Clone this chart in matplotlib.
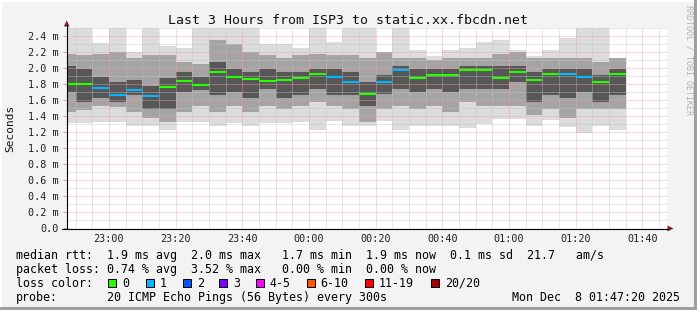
import matplotlib
matplotlib.use("Agg")
import matplotlib.pyplot as plt
import matplotlib.dates as mdates
from matplotlib.ticker import MultipleLocator, FuncFormatter
from matplotlib.lines import Line2D
from matplotlib.patches import Polygon, Rectangle
from datetime import datetime, timedelta

W, H = 697, 310
MONO = "DejaVu Sans Mono"

# time range of the graph and 5 min (300 s) probe steps
t_start = datetime(2025, 12, 7, 22, 47, 20)
t_end = datetime(2025, 12, 8, 1, 47, 20)
first_bin = datetime(2025, 12, 7, 22, 45)
step_min = 5

# median rtt per step (ms) and number of lost pings (of 20)
median = [1.80, 1.80, 1.75, 1.66, 1.72, 1.65, 1.76, 1.84, 1.79, 1.95, 1.89, 1.86,
          1.84, 1.85, 1.875, 1.925, 1.89, 1.82, 1.675, 1.82, 1.97, 1.88, 1.91, 1.91,
          1.97, 1.97, 1.88, 1.955, 1.855, 1.93, 1.93, 1.89, 1.83, 1.92]
loss = [0, 0, 1, 1, 1, 1, 0, 0, 0, 0, 0, 0, 0, 0, 0, 0, 1, 1, 0, 1, 1, 0, 0, 0,
        0, 0, 0, 0, 0, 0, 1, 1, 0, 0]

# smoke: spread of the 20 pings (ms)
rtt_max = [2.6, 2.6, 2.31, 2.6, 2.20, 2.6, 2.28, 2.25, 2.6, 2.6, 2.6, 2.6,
           2.30, 2.30, 2.25, 2.6, 2.33, 2.6, 2.6, 2.20, 2.6, 2.23, 2.15, 2.22,
           2.25, 2.32, 2.35, 2.22, 2.15, 2.22, 2.38, 2.6, 2.6, 2.10]
rtt_min = [1.31, 1.31, 1.32, 1.32, 1.27, 1.275, 1.225, 1.33, 1.33, 1.27, 1.31, 1.27,
           1.31, 1.31, 1.32, 1.23, 1.34, 1.27, 1.275, 1.34, 1.225, 1.275, 1.275, 1.275,
           1.25, 1.30, 1.36, 1.36, 1.27, 1.35, 1.26, 1.19, 1.27, 1.225]
mid_hi = [2.18, 2.16, 2.18, 2.20, 2.12, 2.16, 2.16, 2.08, 2.05, 2.35, 2.30, 2.20,
          2.16, 2.12, 2.16, 2.18, 2.16, 2.16, 2.12, 2.20, 2.12, 2.12, 2.10, 2.12,
          2.12, 2.12, 2.18, 2.20, 2.12, 2.12, 2.12, 2.12, 2.08, 2.12]
mid_lo = [1.45, 1.47, 1.53, 1.51, 1.45, 1.37, 1.33, 1.45, 1.53, 1.45, 1.53, 1.45,
          1.53, 1.49, 1.53, 1.575, 1.53, 1.49, 1.33, 1.49, 1.53, 1.49, 1.53, 1.45,
          1.575, 1.53, 1.53, 1.53, 1.41, 1.49, 1.37, 1.49, 1.49, 1.49]
core_hi = [2.03, 1.99, 1.89, 1.83, 1.85, 1.78, 1.87, 1.95, 1.89, 2.08, 1.99, 1.95,
           1.99, 1.95, 1.95, 1.99, 1.99, 1.95, 1.83, 1.91, 2.03, 1.99, 1.99, 1.99,
           2.03, 2.03, 2.03, 2.03, 1.95, 1.99, 1.99, 1.99, 1.91, 1.99]
core_lo = [1.70, 1.575, 1.62, 1.575, 1.66, 1.49, 1.49, 1.70, 1.72, 1.66, 1.70, 1.62,
           1.74, 1.62, 1.66, 1.74, 1.66, 1.66, 1.53, 1.68, 1.74, 1.70, 1.74, 1.70,
           1.74, 1.74, 1.74, 1.83, 1.575, 1.66, 1.62, 1.70, 1.575, 1.66]

loss_labels = ["0", "1", "2", "3", "4-5", "6-10", "11-19", "20/20"]
loss_upper = [0, 1, 2, 3, 5, 10, 19, 20]
loss_colors = ["#26ff00", "#00b8ff", "#0059ff", "#7e00ff", "#ff00ff", "#ff5500", "#ff0000", "#a10000"]


def px(x, y):
    return x / W, 1 - y / H


def loss_color(n):
    for up, c in zip(loss_upper, loss_colors):
        if n <= up:
            return c
    return loss_colors[-1]


fig = plt.figure(figsize=(W / 100, H / 100), dpi=100, facecolor="#f3f3f3")
ax = fig.add_axes([66.7 / W, (H - 228) / H, 600 / W, 200 / H])
ax.set_facecolor("white")

bins = [mdates.date2num(first_bin + timedelta(minutes=step_min * i)) for i in range(len(median))]
bw = step_min / 1440.0

# smoke layers
for lo, hi, col in [(rtt_min, rtt_max, "#dcdcdc"), (mid_lo, mid_hi, "#a4a4a4"), (core_lo, core_hi, "#575757")]:
    ax.bar(bins, [h - l for l, h in zip(lo, hi)], bottom=lo, width=bw, align="edge",
           color=col, linewidth=0, zorder=1)

# median lines coloured by loss
for b, m, n in zip(bins, median, loss):
    ax.hlines(m, b, b + bw, colors=loss_color(n), linewidth=1.5, zorder=4)

ax.set_xlim(mdates.date2num(t_start), mdates.date2num(t_end))
ax.set_ylim(0, 2.5)

ax.xaxis.set_major_locator(mdates.MinuteLocator(byminute=[0, 20, 40]))
ax.xaxis.set_minor_locator(mdates.MinuteLocator(byminute=range(0, 60, 5)))
ax.xaxis.set_major_formatter(mdates.DateFormatter("%H:%M"))
ax.yaxis.set_major_locator(MultipleLocator(0.2))
ax.yaxis.set_minor_locator(MultipleLocator(0.1))
ax.yaxis.set_major_formatter(FuncFormatter(lambda v, p: "0.0" if abs(v) < 1e-9 else f"{v:.1f} m"))

ax.grid(which="major", color="#ff9a9a", linestyle=(0, (1, 1)), linewidth=0.72, alpha=0.8, zorder=2)
ax.grid(which="minor", color="#c4c4c4", linestyle=(0, (1, 1)), linewidth=0.72, alpha=0.8, zorder=2)
ax.set_axisbelow(False)

ax.tick_params(axis="x", which="both", length=0, pad=4, labelsize=7.3, labelcolor="#202020")
ax.tick_params(axis="y", which="major", length=3, width=0.72, color="#b0b0b0", pad=2.5,
               labelsize=7.3, labelcolor="#202020")
ax.tick_params(axis="y", which="minor", length=0)
for lab in ax.get_xticklabels() + ax.get_yticklabels():
    lab.set_family(MONO)
for s in ax.spines.values():
    s.set_visible(False)

# axes with arrows
fig.add_artist(Line2D(*zip(px(66.5, 228), px(66.5, 25)), color="black", lw=0.8))
fig.add_artist(Line2D(*zip(px(62, 228.5), px(668, 228.5)), color="black", lw=0.8))
fig.add_artist(Polygon([px(66.7, 20.5), px(63.8, 26.5), px(69.6, 26.5)], closed=True,
                       facecolor="#8a1c1c", edgecolor="none"))
fig.add_artist(Polygon([px(673.5, 228.5), px(667.5, 225.6), px(667.5, 231.4)], closed=True,
                       facecolor="#8a1c1c", edgecolor="none"))

# frame
fig.add_artist(Rectangle(px(0, 310), 2 / W, 1, facecolor="white", edgecolor="none"))
fig.add_artist(Rectangle(px(0, 2), 1, 2 / H, facecolor="white", edgecolor="none"))
fig.add_artist(Rectangle(px(694, 310), 3 / W, 1, facecolor="#9f9f9f", edgecolor="none"))
fig.add_artist(Rectangle(px(0, 310), 1, 3 / H, facecolor="#9f9f9f", edgecolor="none"))

fig.text(*px(348, 24), "Last 3 Hours from ISP3 to static.xx.fbcdn.net", family=MONO,
         fontsize=9.5, ha="center", va="baseline", color="#101010")
fig.text(*px(10, 128), "Seconds", family=MONO, fontsize=8, rotation=90,
         ha="center", va="center", color="#101010")
fig.text(*px(688.5, 60), "RRDTOOL / TOBI OETIKER", family=MONO, fontsize=6,
         rotation=270, ha="center", va="center", color="#b4b4b4")

# legend
fs = 8.4
fig.text(*px(16, 259), "median rtt:  1.9 ms avg  2.0 ms max   1.7 ms min  1.9 ms now  0.1 ms sd  21.7   am/s",
         family=MONO, fontsize=fs, va="baseline")
fig.text(*px(16, 273), "packet loss: 0.74 % avg  3.52 % max   0.00 % min  0.00 % now",
         family=MONO, fontsize=fs, va="baseline")
fig.text(*px(16, 287), "loss color:", family=MONO, fontsize=fs, va="baseline")
sq_x = [108.3, 145.7, 182.7, 219.0, 255.7, 306.7, 365.0, 430.7]
for x, lab, c in zip(sq_x, loss_labels, loss_colors):
    fig.add_artist(Rectangle(px(x, 286.5), 8 / W, 8 / H, facecolor=c, edgecolor="black", lw=0.72))
    fig.text(*px(x + 14, 287), lab, family=MONO, fontsize=fs, va="baseline")
fig.text(*px(16, 301), "probe:", family=MONO, fontsize=fs, va="baseline")
fig.text(*px(107.3, 301), "20 ICMP Echo Pings (56 Bytes) every 300s", family=MONO, fontsize=fs, va="baseline")
fig.text(*px(680, 301), "Mon Dec  8 01:47:20 2025", family=MONO, fontsize=fs, va="baseline", ha="right")

fig.savefig("out.png", dpi=100, facecolor=fig.get_facecolor())
